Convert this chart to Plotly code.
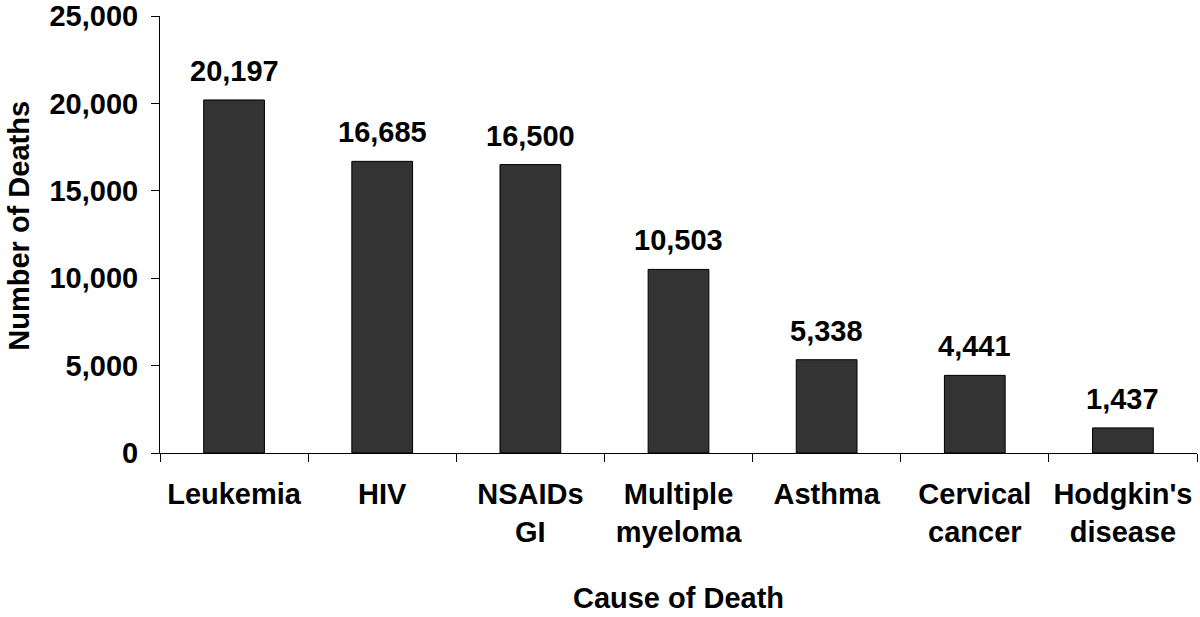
import plotly.graph_objects as go

categories = ["Leukemia", "HIV", "NSAIDs<br>GI", "Multiple<br>myeloma", "Asthma",
              "Cervical<br>cancer", "Hodgkin's<br>disease"]
deaths = [20197, 16685, 16500, 10503, 5338, 4441, 1437]
y_ticks = [0, 5000, 10000, 15000, 20000, 25000]

FONT = "Liberation Sans, Arial, sans-serif"
FS = 29

fig = go.Figure()
fig.add_trace(go.Bar(
    x=categories, y=deaths,
    marker=dict(color="#333333", line=dict(color="#000000", width=1)),
    hoverinfo="skip",
))

for c, v in zip(categories, deaths):
    fig.add_annotation(x=c, y=v, text=f"<b>{v:,}</b>", showarrow=False,
                       yanchor="bottom", yshift=11,
                       font=dict(family=FONT, size=FS, color="black"))

fig.add_annotation(xref="paper", yref="paper", x=-0.136, y=0.52,
                   text="<b>Number of Deaths</b>", textangle=-90,
                   showarrow=False, xanchor="center", yanchor="middle",
                   font=dict(family=FONT, size=FS, color="black"))

fig.update_layout(
    width=1200, height=617,
    margin=dict(l=160, r=3, t=16, b=164),
    paper_bgcolor="white", plot_bgcolor="white",
    bargap=0.59, showlegend=False,
    font=dict(family=FONT, size=FS, color="black"),
)
fig.update_xaxes(
    automargin=False,
    showline=True, linecolor="black", linewidth=1,
    ticks="outside", ticklen=8, tickcolor="black", tickwidth=1,
    tickson="boundaries", showgrid=False, ticklabelstandoff=15,
    ticklabeloverflow="allow",
    tickfont=dict(family=FONT, size=FS, color="black", weight="bold"),
    title=dict(text="<b>Cause of Death</b>", standoff=41,
               font=dict(family=FONT, size=FS, color="black")),
)
fig.update_yaxes(
    automargin=False,
    range=[0, 25000], tickvals=y_ticks, tickformat=",",
    showline=True, linecolor="black", linewidth=1,
    ticks="outside", ticklen=8, tickcolor="black", tickwidth=1,
    showgrid=False, zeroline=False, ticklabelstandoff=7,
    ticklabeloverflow="allow",
    tickfont=dict(family=FONT, size=FS, color="black", weight="bold"),
)

fig.write_html("out.html",
               config={"displayModeBar": False},
               post_script="document.body.style.margin='0';")
